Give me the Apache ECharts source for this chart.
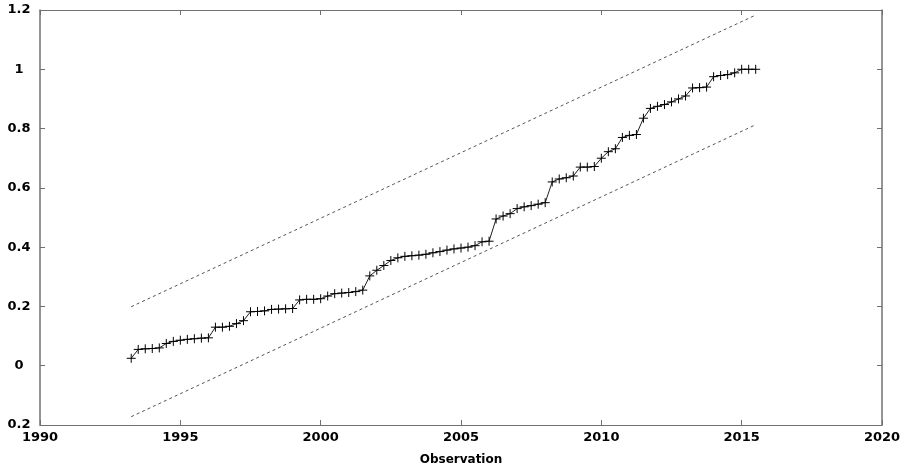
<!DOCTYPE html>
<html>
<head>
<meta charset="utf-8">
<style>
  html, body { margin: 0; padding: 0; background: #fff; }
  #chart { width: 912px; height: 471px; }
</style>
<script src="https://cdn.jsdelivr.net/npm/echarts@6/dist/echarts.min.js"></script>
</head>
<body>
<div id="chart"></div>
<script>
// Observation times (quarterly)
var obsYears = [
  1993.25, 1993.5, 1993.75, 1994.0, 1994.25, 1994.5, 1994.75, 1995.0, 1995.25, 1995.5,
  1995.75, 1996.0, 1996.25, 1996.5, 1996.75, 1997.0, 1997.25, 1997.5, 1997.75, 1998.0,
  1998.25, 1998.5, 1998.75, 1999.0, 1999.25, 1999.5, 1999.75, 2000.0, 2000.25, 2000.5,
  2000.75, 2001.0, 2001.25, 2001.5, 2001.75, 2002.0, 2002.25, 2002.5, 2002.75, 2003.0,
  2003.25, 2003.5, 2003.75, 2004.0, 2004.25, 2004.5, 2004.75, 2005.0, 2005.25, 2005.5,
  2005.75, 2006.0, 2006.25, 2006.5, 2006.75, 2007.0, 2007.25, 2007.5, 2007.75, 2008.0,
  2008.25, 2008.5, 2008.75, 2009.0, 2009.25, 2009.5, 2009.75, 2010.0, 2010.25, 2010.5,
  2010.75, 2011.0, 2011.25, 2011.5, 2011.75, 2012.0, 2012.25, 2012.5, 2012.75, 2013.0,
  2013.25, 2013.5, 2013.75, 2014.0, 2014.25, 2014.5, 2014.75, 2015.0, 2015.25, 2015.5
];
// Statistic values
var cusumValues = [
  0.025, 0.055, 0.057, 0.058, 0.060, 0.075, 0.082, 0.086, 0.089, 0.091,
  0.093, 0.094, 0.130, 0.130, 0.133, 0.142, 0.152, 0.182, 0.183, 0.185,
  0.190, 0.191, 0.192, 0.193, 0.222, 0.224, 0.224, 0.226, 0.235, 0.243,
  0.245, 0.247, 0.250, 0.255, 0.303, 0.322, 0.338, 0.355, 0.364, 0.369,
  0.371, 0.373, 0.376, 0.381, 0.385, 0.390, 0.394, 0.397, 0.400, 0.405,
  0.418, 0.420, 0.495, 0.505, 0.513, 0.530, 0.536, 0.540, 0.545, 0.550,
  0.620, 0.630, 0.634, 0.640, 0.670, 0.670, 0.672, 0.700, 0.722, 0.732,
  0.770, 0.777, 0.780, 0.835, 0.868, 0.875, 0.881, 0.890, 0.900, 0.910,
  0.937, 0.938, 0.940, 0.975, 0.979, 0.982, 0.988, 1.000, 1.000, 1.000
];
// Significance bounds (straight lines, endpoints)
var boundYears = [1993.25, 2015.5];
var upperBound = [0.199, 1.183];
var lowerBound = [-0.172, 0.813];
// Tick labels as printed
var xTickLabels = ['1990', '1995', '2000', '2005', '2010', '2015', '2020'];
var yTickLabels = ['0.2', '0', '0.2', '0.4', '0.6', '0.8', '1', '1.2'];
var xAxisTitle = 'Observation';

function pairs(xs, ys) {
  var out = [];
  for (var i = 0; i < xs.length; i++) out.push([xs[i], ys[i]]);
  return out;
}

var fontFamily = '"DejaVu Sans", Verdana, sans-serif';
var axisGray = '#707070';

var chart = echarts.init(document.getElementById('chart'), null, { renderer: 'canvas' });
chart.setOption({
  animation: false,
  backgroundColor: '#ffffff',
  grid: { left: 40, right: 30, top: 10, bottom: 45, containLabel: false },
  xAxis: [
    {
      type: 'value', min: 1990, max: 2020, interval: 5, position: 'bottom',
      name: xAxisTitle, nameLocation: 'middle', nameGap: 29,
      nameTextStyle: { fontFamily: fontFamily, fontWeight: 'bold', fontSize: 12, color: '#000' },
      axisLine: { show: true, onZero: false, lineStyle: { color: axisGray, width: 1 } },
      axisTick: { show: true, inside: true, length: 5, lineStyle: { color: axisGray } },
      axisLabel: {
        margin: 6, fontFamily: fontFamily, fontWeight: 'bold', fontSize: 13, color: '#000',
        formatter: function (v, idx) { return xTickLabels[idx] !== undefined ? xTickLabels[idx] : String(v); }
      },
      splitLine: { show: false }
    },
    {
      type: 'value', min: 1990, max: 2020, interval: 5, position: 'top',
      axisLine: { show: true, onZero: false, lineStyle: { color: axisGray, width: 1 } },
      axisTick: { show: true, inside: true, length: 5, lineStyle: { color: axisGray } },
      axisLabel: { show: false },
      splitLine: { show: false }
    }
  ],
  yAxis: [
    {
      type: 'value', min: -0.2, max: 1.2, interval: 0.2, position: 'left',
      axisLine: { show: true, onZero: false, lineStyle: { color: axisGray, width: 1.5 } },
      axisTick: { show: true, inside: true, length: 5, lineStyle: { color: axisGray } },
      axisLabel: {
        margin: 21, align: 'center', fontFamily: fontFamily, fontWeight: 'bold', fontSize: 13, color: '#000',
        formatter: function (v, idx) { return yTickLabels[idx] !== undefined ? yTickLabels[idx] : String(v); }
      },
      splitLine: { show: false }
    },
    {
      type: 'value', min: -0.2, max: 1.2, interval: 0.2, position: 'right',
      axisLine: { show: true, onZero: false, lineStyle: { color: axisGray, width: 1.5 } },
      axisTick: { show: true, inside: true, length: 5, lineStyle: { color: axisGray } },
      axisLabel: { show: false },
      splitLine: { show: false }
    }
  ],
  series: [
    {
      name: 'Upper bound', type: 'line', xAxisIndex: 0, yAxisIndex: 0,
      data: pairs(boundYears, upperBound), showSymbol: false, symbol: 'none',
      lineStyle: { color: '#555', width: 1, type: [3, 3] }, silent: true
    },
    {
      name: 'Lower bound', type: 'line', xAxisIndex: 0, yAxisIndex: 0,
      data: pairs(boundYears, lowerBound), showSymbol: false, symbol: 'none',
      lineStyle: { color: '#555', width: 1, type: [3, 3] }, silent: true
    },
    {
      name: 'Statistic', type: 'line', xAxisIndex: 0, yAxisIndex: 0,
      data: pairs(obsYears, cusumValues),
      symbol: 'path://M0,5L10,5M5,0L5,10', symbolSize: 9, showAllSymbol: true,
      itemStyle: { color: 'none', borderColor: '#000', borderWidth: 1 },
      lineStyle: { color: '#222', width: 1 }, silent: true
    }
  ]
});
</script>
</body>
</html>
